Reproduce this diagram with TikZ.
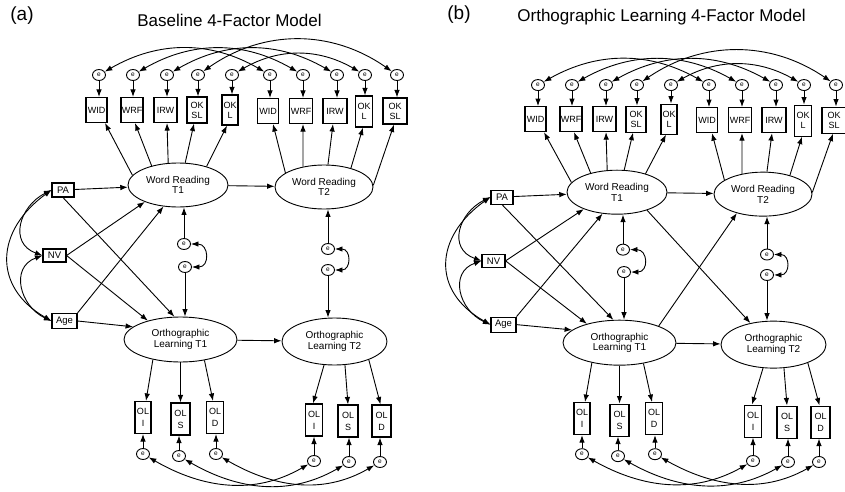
\documentclass[tikz,border=0pt]{standalone}
\usepackage{fontspec}
\setmainfont{Liberation Sans}
\usetikzlibrary{shapes.geometric, arrows.meta}

\tikzset{
  lat/.style={ellipse, draw, line width=0.9pt, inner sep=0pt, align=center, font=\fontsize{10}{10.5}\selectfont},
  obs/.style={draw, line width=1.1pt, inner sep=0pt, align=center, font=\fontsize{9}{10}\selectfont},
  olbox/.style={draw, line width=1.1pt, inner sep=0pt, align=center, font=\fontsize{9}{12}\selectfont},
  pred/.style={draw, line width=1.1pt, inner sep=0pt, align=center, font=\fontsize{9.5}{10}\selectfont},
  err/.style={ellipse, draw, line width=0.9pt, inner sep=0pt, minimum width=13pt, minimum height=11pt, font=\fontsize{6.5}{6.5}\selectfont},
  arr/.style={-{Latex[length=7.5pt,width=5.5pt]}, line width=0.9pt},
  dbl/.style={{Latex[length=7.5pt,width=5.5pt]}-{Latex[length=7.5pt,width=5.5pt]}, line width=0.9pt},
}

\newcommand\drawpanel[1]{%
  % latent variables
  \node[lat, minimum width=100pt, minimum height=44pt] (#1wr1) at (178,-185) {Word Reading\\T1};
  \node[lat, minimum width=98pt, minimum height=44pt] (#1wr2) at (324,-187) {Word Reading\\T2};
  \node[lat, minimum width=113pt, minimum height=45pt] (#1ol1) at (180.5,-339.5) {Orthographic\\Learning T1};
  \node[lat, minimum width=105pt, minimum height=47pt] (#1ol2) at (334.5,-341.5) {Orthographic\\Learning T2};
  % predictors
  \node[pred, minimum width=22pt, minimum height=14pt] (#1pa) at (63,-190) {PA};
  \node[pred, minimum width=23pt, minimum height=13pt] (#1nv) at (54.5,-255.5) {NV};
  \node[pred, minimum width=25pt, minimum height=15pt] (#1age) at (64.5,-321) {Age};
  % top indicators
  \foreach \i/\ex/\bx/\by/\w/\h/\lab in {
    1/99/96.5/110/21/25/{WID},
    2/133/132/110/22/25/{WRF},
    3/167/165.5/110/23/25/{IRW},
    4/198/197/110/20/26/{OK\\SL},
    5/232/230/110/16/30/{OK\\L},
    6/270/268/111/21/25/{WID},
    7/303/301/111/23/25/{WRF},
    8/337/335/111/24/25/{IRW},
    9/365/364/111.5/17/31/{OK\\L},
    10/397/395/111/24/26/{OK\\SL}}{
    \node[err] (#1te\i) at (\ex,-75) {e};
    \node[obs, minimum width=\w pt, minimum height=\h pt] (#1tb\i) at (\bx,-\by) {\lab};
    \draw[arr] (#1te\i) -- (#1te\i |- #1tb\i.north);
  }
  \foreach \i/\ang/\dx in {1/168/8.5, 2/144/3, 3/114/1.5, 4/72/-3, 5/33/-3}{
    \draw[arr] (#1wr1.\ang) -- ([xshift=\dx pt]#1tb\i.south);
  }
  \foreach \i/\ang/\dx in {6/160/5, 7/136/2, 8/80/-2, 9/35/-1, 10/2/-1}{
    \draw[arr] (#1wr2.\ang) -- ([xshift=\dx pt]#1tb\i.south);
  }
  \draw[dbl] (#1te1) to[out=30,in=150] (#1te6);
  \draw[dbl] (#1te2) to[out=30,in=150] (#1te7);
  \draw[dbl] (#1te3) to[out=30,in=150] (#1te8);
  \draw[dbl] (#1te4) to[out=35,in=145] (#1te10);
  \draw[dbl] (#1te5) to[out=30,in=150] (#1te9);
  % bottom indicators
  \foreach \i/\bx/\by/\w/\lab/\ex/\ey in {
    1/143/417.5/16/{OL\\I}/143/454,
    2/180.5/419/19/{OL\\S}/179/456,
    3/215/417.5/17/{OL\\D}/216/454,
    4/314/420/17/{OL\\I}/314/461,
    5/348/421/20/{OL\\S}/349/462,
    6/381.5/421/19/{OL\\D}/380/462}{
    \node[olbox, minimum width=\w pt, minimum height=32pt] (#1ob\i) at (\bx,-\by) {\lab};
    \node[err] (#1be\i) at (\ex,-\ey) {e};
    \draw[arr] (#1be\i) -- (#1be\i |- #1ob\i.south);
  }
  \foreach \i/\ang/\dx in {1/216/3, 2/270/0, 3/319/-2}{
    \draw[arr] (#1ol1.\ang) -- ([xshift=\dx pt]#1ob\i.north);
  }
  \foreach \i/\ang/\dx in {4/246/-1, 5/294/0, 6/332/-1}{
    \draw[arr] (#1ol2.\ang) -- ([xshift=\dx pt]#1ob\i.north);
  }
  \draw[dbl] (#1be1) to[out=-30,in=-150] (#1be4);
  \draw[dbl] (#1be2) to[out=-30,in=-150] (#1be5);
  \draw[dbl] (#1be3) to[out=-30,in=-150] (#1be6);
  % structural paths
  \draw[arr] (#1pa) -- (#1wr1);
  \draw[arr] (#1pa.south) -- (#1ol1.105);
  \draw[arr] (#1nv.east) -- (#1wr1.207);
  \draw[arr] (#1nv.east) -- (#1ol1.150);
  \draw[arr] (#1age.north east) -- (#1wr1.236);
  \draw[arr] (#1age.east) -- (#1ol1.165);
  \draw[arr] (#1wr1) -- (#1wr2);
  \draw[arr] (#1ol1) -- (#1ol2);
  % predictor covariances
  \draw[dbl] (#1pa.west) to[out=207,in=160,looseness=1.4] (#1nv.west);
  \draw[dbl] (#1pa.west) to[out=216,in=150,looseness=1.35] (#1age.west);
  \draw[dbl] (#1nv.west) to[out=200,in=155,looseness=1.35] (#1age.west);
  % disturbances
  \node[err] (#1m1) at (184,-244) {e};
  \node[err] (#1m2) at (185,-267) {e};
  \draw[arr] (#1m1) -- (#1m1 |- #1wr1.south);
  \draw[arr] (#1m2) -- (#1m2 |- #1ol1.north);
  \draw[dbl] (#1m1.east) to[out=0,in=0,looseness=2] (#1m2.east);
  \node[err] (#1m3) at (328,-249) {e};
  \node[err] (#1m4) at (328,-270) {e};
  \draw[arr] (#1m3) -- (#1m3 |- #1wr2.south);
  \draw[arr] (#1m4) -- (#1m4 |- #1ol2.north);
  \draw[dbl] (#1m3.east) to[out=0,in=0,looseness=2] (#1m4.east);
}

\begin{document}
\begin{tikzpicture}[x=1pt,y=1pt]
\useasboundingbox (0,0) rectangle (845,-492);
\node[font=\fontsize{19}{22}\selectfont] (la) at (22,-16) {(a)};
\node[font=\fontsize{17}{20}\selectfont] (ta) at (229.5,-20) {Baseline 4-Factor Model};
\node[font=\fontsize{19}{22}\selectfont] (lb) at (459,-15) {(b)};
\node[font=\fontsize{17}{20}\selectfont] (tb) at (661.5,-17) {Orthographic Learning 4-Factor Model};

\drawpanel{a}

\begin{scope}[shift={(439pt,-12pt)}, yscale=0.974]
\drawpanel{b}
\draw[arr] (bwr1.329) -- (bol2.137);
\draw[arr] (bol1.23) -- (bwr2.216);
\end{scope}
\end{tikzpicture}
\end{document}
